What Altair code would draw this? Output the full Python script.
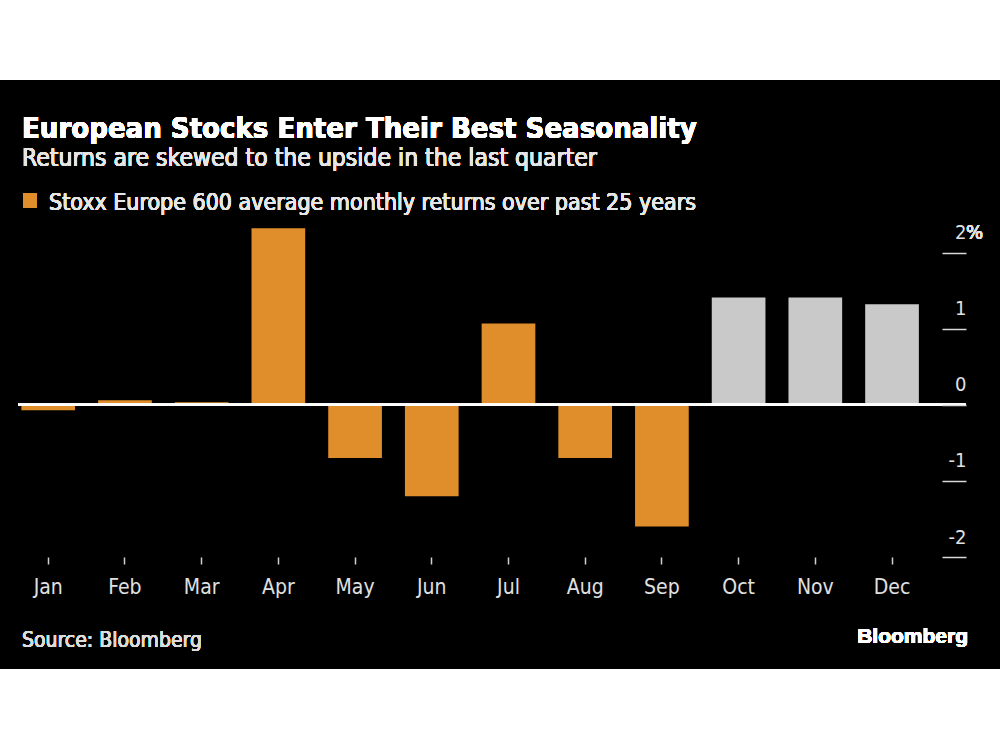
import altair as alt
import pandas as pd

months = ["Jan", "Feb", "Mar", "Apr", "May", "Jun", "Jul", "Aug", "Sep", "Oct", "Nov", "Dec"]
returns = [-0.07, 0.06, 0.035, 2.32, -0.70, -1.20, 1.07, -0.70, -1.60, 1.41, 1.41, 1.32]
group = ["hist"] * 9 + ["season"] * 3
y_ticks = [-2, -1, 0, 1, 2]

title_text = "European Stocks Enter Their Best Seasonality"
subtitle_text = "Returns are skewed to the upside in the last quarter"
legend_text = "Stoxx Europe 600 average monthly returns over past 25 years"
source_text = "Source: Bloomberg"
brand_text = "Bloomberg"

ORANGE = "#E08E2B"
GREY = "#C9C9C9"
FONT = "DejaVu Sans Condensed, Liberation Sans Narrow, DejaVu Sans, sans-serif"

df = pd.DataFrame({"month": months, "ret": returns, "group": group})

W, H = 932, 331
PL, PT = 10, 226

x_scale = alt.Scale(domain=months, paddingInner=0.3, paddingOuter=0.225, align=0.33)
y_scale = alt.Scale(domain=[-2, 2.35], nice=False, zero=False)

background = alt.Chart(df).mark_rect(color="#000000").encode(
    x=alt.value(-PL), x2=alt.value(1000 - PL),
    y=alt.value(80 - PT), y2=alt.value(669 - PT),
)

bars = alt.Chart(df).mark_bar().encode(
    x=alt.X("month:N", scale=x_scale, sort=months,
            axis=alt.Axis(title=None, domain=False, grid=False, labelAngle=0,
                          tickSize=7, tickColor="#d0d0d0", tickWidth=1.5,
                          labelFont=FONT, labelFontSize=21, labelColor="#e0e0e0",
                          labelPadding=12, zindex=1)),
    y=alt.Y("ret:Q", scale=y_scale,
            axis=alt.Axis(title=None, orient="right", domain=False, grid=False,
                          values=y_ticks, labelExpr="'' + datum.value",
                          tickSize=24, tickColor="#d8d8d8", tickWidth=1.5,
                          labelAlign="right", labelPadding=0, labelBaseline="alphabetic",
                          labelOffset=-14, labelFont=FONT, labelFontSize=20,
                          labelColor="#e0e0e0", zindex=1)),
    color=alt.Color("group:N", scale=alt.Scale(domain=["hist", "season"], range=[ORANGE, GREY]),
                    legend=None),
)

zero_line = alt.Chart(df).mark_rule(color="#ffffff", strokeWidth=2).encode(
    x=alt.value(8), x2=alt.value(956), y=alt.datum(0, scale=y_scale)
)

pct = alt.Chart(df).mark_text(
    text="%", align="left", baseline="alphabetic", font=FONT, fontSize=20, color="#e0e0e0"
).encode(x=alt.value(966 - PL), y=alt.datum(2, scale=y_scale), yOffset=alt.value(-14))


def txt(t, x, y, size, weight="normal", color="#e6e6e6", font=FONT, align="left"):
    return alt.Chart(df).mark_text(
        text=t, align=align, baseline="alphabetic", font=font, fontSize=size,
        fontWeight=weight, color=color
    ).encode(x=alt.value(x - PL), y=alt.value(y - PT))


title = txt(title_text, 22, 138, 29, "bold", "#ffffff")
subtitle = txt(subtitle_text, 22, 166, 24.5)
legend_txt = txt(legend_text, 49, 210, 23)
source = txt(source_text, 22, 647, 21, color="#dcdcdc")
brand = txt(brand_text, 968, 643, 21, "bold", "#ffffff", font="Liberation Sans, Arial, sans-serif", align="right")

legend_sq = alt.Chart(df).mark_rect(color=ORANGE).encode(
    x=alt.value(23 - PL), x2=alt.value(37 - PL), y=alt.value(193 - PT), y2=alt.value(208 - PT)
)

chart = alt.layer(
    background, bars, zero_line, pct, title, subtitle, legend_sq, legend_txt, source, brand
).properties(
    width=W, height=H,
    autosize=alt.AutoSizeParams(type="none"),
    padding={"left": PL, "top": PT, "right": 1000 - PL - W, "bottom": 750 - PT - H},
    background="white",
).configure_view(stroke=None)

chart.save("out.html", embed_options={"renderer": "svg", "actions": False})
